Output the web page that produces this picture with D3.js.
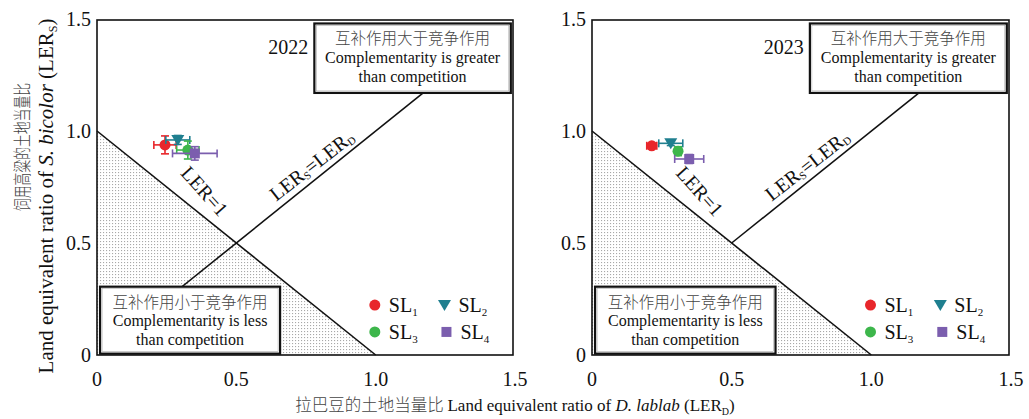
<!DOCTYPE html>
<html><head><meta charset="utf-8">
<script src="https://cdn.jsdelivr.net/npm/d3@7"></script>
<style>
body{margin:0;background:#fff;}
svg{font-family:"Liberation Serif","Times New Roman",serif;}
text{font-family:"Liberation Serif","Times New Roman","Noto Sans CJK SC",serif;fill:#111;}
.cn{font-family:"Noto Sans CJK SC",sans-serif;font-weight:300;fill:#444;}
</style></head><body>
<svg id="chart" width="1029" height="419"></svg>
<script>
const years = ["2022", "2023"];
const series = ["SL1", "SL2", "SL3", "SL4"];
const seriesColors = ["#e8262b", "#1f7f8f", "#3db64b", "#7b5eae"];
const seriesShapes = ["circle", "triangle", "circle", "square"];
const lerD2022 = [0.244, 0.290, 0.326, 0.351];
const errD2022 = [0.040, 0.043, 0.040, 0.080];
const lerS2022 = [0.938, 0.960, 0.915, 0.900];
const errS2022 = [0.040, 0.020, 0.040, 0.030];
const lerD2023 = [0.214, 0.282, 0.308, 0.348];
const errD2023 = [0.018, 0.043, 0.012, 0.052];
const lerS2023 = [0.934, 0.945, 0.910, 0.875];
const errS2023 = [0.010, 0.010, 0.020, 0.020];
const tickValues = [0, 0.5, 1.0, 1.5];
const tickLabels = ["0", "0.5", "1.0", "1.5"];
const greaterCn = "互补作用大于竞争作用";
const greaterEn = ["Complementarity is greater", "than competition"];
const lessCn = "互补作用小于竞争作用";
const lessEn = ["Complementarity is less", "than competition"];

const svg = d3.select("#chart");
const defs = svg.append("defs");
const pat = defs.append("pattern").attr("id","dots").attr("width",3).attr("height",3).attr("patternUnits","userSpaceOnUse");
pat.append("rect").attr("width",3).attr("height",3).attr("fill","#fff");
pat.append("rect").attr("x",1).attr("y",1).attr("width",1.1).attr("height",1.1).attr("fill","#a8a8a8");

const y = d3.scaleLinear().domain([0, 1.5]).range([355, 19]);

function drawPanel(x0, x1, year, lerD, errD, lerS, errS, diagStart) {
  const x = d3.scaleLinear().domain([0, 1.5]).range([x0, x1]);
  const g = svg.append("g");
  g.append("path").attr("d", d3.line()([[x(0),y(0)],[x(0),y(1)],[x(1),y(0)]]) + "Z")
    .attr("fill","url(#dots)");
  g.append("path").attr("d", d3.line()([[x(0),y(1)],[x(1),y(0)]])).attr("stroke","#111").attr("stroke-width",1.6).attr("fill","none");
  g.append("path").attr("d", d3.line()([[x(diagStart),y(diagStart)],[x(1.3),y(1.3)]])).attr("stroke","#111").attr("stroke-width",1.6).attr("fill","none");

  function box(dx0, dx1, dy0, dy1, cn, en) {
    const bx = x(dx0), bw = x(dx1) - x(dx0), by = y(dy0), bh = y(dy1) - y(dy0);
    g.append("rect").attr("x",bx).attr("y",by).attr("width",bw).attr("height",bh)
      .attr("fill","#fff").attr("stroke","#111").attr("stroke-width",2.2);
    g.append("rect").attr("x",bx+2).attr("y",by+2).attr("width",bw-4).attr("height",bh-4)
      .attr("fill","none").attr("stroke","#999").attr("stroke-width",0.5);
    const cx = bx + bw/2;
    g.append("text").attr("class","cn").attr("x",cx).attr("y",by+21).attr("text-anchor","middle").attr("font-size",15.5).text(cn);
    en.forEach((t,i)=>g.append("text").attr("x",cx).attr("y",by+39.5+i*19).attr("text-anchor","middle").attr("font-size",16).attr("fill","#222").text(t));
  }
  box(0.78, 1.485, 1.48, 1.17, greaterCn, greaterEn);
  box(0.011, 0.657, 0.305, 0.006, lessCn, lessEn);

  g.append("text").attr("x", x(0.758)).attr("y", 54).attr("text-anchor","end").attr("font-size",20).text(year);

  g.append("text").attr("transform",`translate(${x(0.38)},${y(0.725)}) rotate(48)`).attr("text-anchor","middle")
    .attr("dominant-baseline","middle").attr("font-size",20).text("LER=1");
  const t2 = g.append("text").attr("transform",`translate(${x(0.775)},${y(0.84)}) rotate(-38)`).attr("text-anchor","middle")
    .attr("dominant-baseline","middle").attr("font-size",20);
  t2.append("tspan").text("LER");
  t2.append("tspan").attr("font-size",11).attr("dy",4).text("S");
  t2.append("tspan").attr("dy",-4).text("=LER");
  t2.append("tspan").attr("font-size",11).attr("dy",4).text("D");

  g.append("rect").attr("x",x0).attr("y",y(1.5)+1).attr("width",x(1.5)-x0-2).attr("height",y(0)-y(1.5)-1)
    .attr("fill","none").attr("stroke","#111").attr("stroke-width",1.6);

  tickValues.forEach((v,i)=>{
    g.append("text").attr("x",x(v)).attr("y",386).attr("text-anchor","middle").attr("font-size",20).text(tickLabels[i]);
    g.append("text").attr("x",x0-6).attr("y",y(v)+7).attr("text-anchor","end").attr("font-size",20).text(tickLabels[i]);
  });

  series.forEach((s,i)=>{
    const c = seriesColors[i];
    const px = x(lerD[i]), py = y(lerS[i]);
    const eg = g.append("g").attr("stroke",c).attr("stroke-width",1.6);
    eg.append("line").attr("x1",x(lerD[i]-errD[i])).attr("x2",x(lerD[i]+errD[i])).attr("y1",py).attr("y2",py);
    eg.append("line").attr("x1",x(lerD[i]-errD[i])).attr("x2",x(lerD[i]-errD[i])).attr("y1",py-4).attr("y2",py+4);
    eg.append("line").attr("x1",x(lerD[i]+errD[i])).attr("x2",x(lerD[i]+errD[i])).attr("y1",py-4).attr("y2",py+4);
    eg.append("line").attr("y1",y(lerS[i]-errS[i])).attr("y2",y(lerS[i]+errS[i])).attr("x1",px).attr("x2",px);
    eg.append("line").attr("y1",y(lerS[i]-errS[i])).attr("y2",y(lerS[i]-errS[i])).attr("x1",px-4).attr("x2",px+4);
    eg.append("line").attr("y1",y(lerS[i]+errS[i])).attr("y2",y(lerS[i]+errS[i])).attr("x1",px-4).attr("x2",px+4);
    drawMarker(g, seriesShapes[i], px, py, c);
  });

  const legPos = [[x(0.997), y(0.223)], [x(1.247), y(0.223)], [x(0.997), y(0.103)], [x(1.254), y(0.103)]];
  series.forEach((s,i)=>{
    const [lx, ly] = legPos[i];
    drawMarker(g, seriesShapes[i], lx, ly, seriesColors[i]);
    const t = g.append("text").attr("x", lx+14).attr("y", ly+7).attr("font-size",20);
    t.append("tspan").text(s.slice(0,2));
    t.append("tspan").attr("font-size",11).attr("dy",4).text(s.slice(2));
  });
}

function drawMarker(g, shape, px, py, c) {
  if (shape === "circle") g.append("circle").attr("cx",px).attr("cy",py).attr("r",5.5).attr("fill",c);
  else if (shape === "triangle") g.append("path").attr("d",`M${px-6.5},${py-5}L${px+6.5},${py-5}L${px},${py+6}Z`).attr("fill",c);
  else g.append("rect").attr("x",px-5).attr("y",py-5).attr("width",10).attr("height",10).attr("fill",c);
}

drawPanel(97, 515, years[0], lerD2022, errD2022, lerS2022, errS2022, 0.25);
drawPanel(592, 1011, years[1], lerD2023, errD2023, lerS2023, errS2023, 0.5);

svg.append("text").attr("class","cn").attr("transform","translate(29,147) rotate(-90)").attr("text-anchor","middle")
  .attr("font-size",18).attr("font-weight",400).attr("textLength",128).attr("lengthAdjust","spacingAndGlyphs").text("饲用高粱的土地当量比");
const yt = svg.append("text").attr("transform","translate(53,196) rotate(-90)").attr("text-anchor","middle").attr("font-size",21);
yt.append("tspan").text("Land equivalent ratio of ");
yt.append("tspan").attr("font-style","italic").text("S. bicolor");
yt.append("tspan").text(" (LER");
yt.append("tspan").attr("font-size",12).attr("dy",4).text("S");
yt.append("tspan").attr("dy",-4).text(")");

const xt = svg.append("text").attr("x",515).attr("y",411).attr("text-anchor","middle").attr("font-size",17);
xt.append("tspan").attr("font-family","Noto Sans CJK SC").attr("font-weight",300).attr("fill","#444").attr("font-size",16.5).text("拉巴豆的土地当量比 ");
xt.append("tspan").text("Land equivalent ratio of ");
xt.append("tspan").attr("font-style","italic").text("D. lablab");
xt.append("tspan").text(" (LER");
xt.append("tspan").attr("font-size",10).attr("dy",4).text("D");
xt.append("tspan").attr("dy",-4).text(")");
</script></body></html>
